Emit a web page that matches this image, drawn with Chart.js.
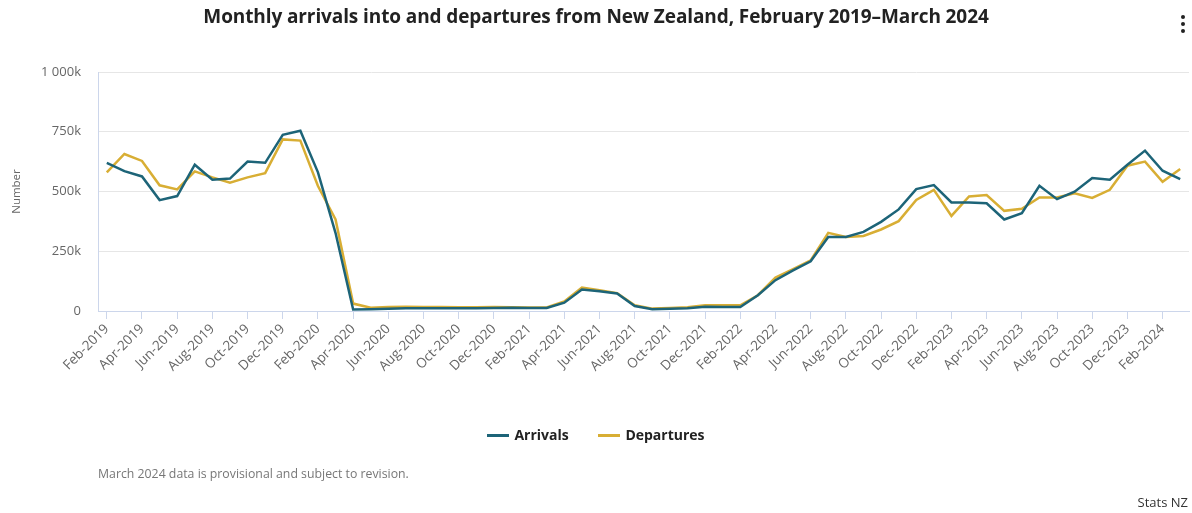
<!DOCTYPE html>
<html>
<head>
<meta charset="utf-8">
<script src="https://cdn.jsdelivr.net/npm/chart.js@4.4.1/dist/chart.umd.min.js"></script>
<style>
  html, body { margin: 0; padding: 0; background: #fff; }
  body { width: 1192px; height: 513px; position: relative; overflow: hidden; font-family: "Open Sans", "Liberation Sans", sans-serif; }
  #wrap { position: absolute; left: 0; top: 0; width: 1192px; height: 513px; }
  #title { position: absolute; left: 0; width: 1192px; top: 3px; text-align: center; font-weight: 700; font-size: 19px; color: #222; letter-spacing: -0.1px; }
  #menu { position: absolute; left: 1181px; top: 15px; width: 4px; }
  #menu span { display: block; width: 4px; height: 4px; border-radius: 2px; background: #222; margin-bottom: 3px; }
  #legend { position: absolute; top: 425px; left: 0; width: 1192px; text-align: center; font-size: 14px; font-weight: 700; color: #222; }
  #legend .item { display: inline-block; margin: 0 13px; }
  #legend .sw { display: inline-block; width: 22px; height: 3px; vertical-align: middle; margin-right: 5px; position: relative; top: -1px; }
  #note { position: absolute; left: 98px; top: 465px; font-size: 12.3px; color: #777; }
  #src { position: absolute; right: 4px; top: 493px; font-size: 13px; color: #333; }
</style>
</head>
<body>
<div id="wrap"><canvas id="c" width="1192" height="513"></canvas></div>
<div id="title">Monthly arrivals into and departures from New Zealand, February 2019–March 2024</div>
<div id="menu"><span></span><span></span><span></span></div>
<div id="legend">
  <span class="item"><span class="sw" style="background:#1d6478"></span>Arrivals</span>
  <span class="item"><span class="sw" style="background:#d8ae34"></span>Departures</span>
</div>
<div id="note">March 2024 data is provisional and subject to revision.</div>
<div id="src">Stats NZ</div>
<script>
// Month labels Feb-2019 .. Mar-2024
const months = ["Feb-2019","Mar-2019","Apr-2019","May-2019","Jun-2019","Jul-2019","Aug-2019","Sep-2019","Oct-2019","Nov-2019","Dec-2019","Jan-2020",
"Feb-2020","Mar-2020","Apr-2020","May-2020","Jun-2020","Jul-2020","Aug-2020","Sep-2020","Oct-2020","Nov-2020","Dec-2020","Jan-2021",
"Feb-2021","Mar-2021","Apr-2021","May-2021","Jun-2021","Jul-2021","Aug-2021","Sep-2021","Oct-2021","Nov-2021","Dec-2021","Jan-2022",
"Feb-2022","Mar-2022","Apr-2022","May-2022","Jun-2022","Jul-2022","Aug-2022","Sep-2022","Oct-2022","Nov-2022","Dec-2022","Jan-2023",
"Feb-2023","Mar-2023","Apr-2023","May-2023","Jun-2023","Jul-2023","Aug-2023","Sep-2023","Oct-2023","Nov-2023","Dec-2023","Jan-2024",
"Feb-2024","Mar-2024"];

// Values in thousands
const arrivals = [620,585,563,464,481,612,549,554,625,620,737,754,
580,326,6,7,9,11,12,12,12,12,13,14,
13,13,35,90,83,73,21,7,9,12,18,17,
17,66,129,170,208,310,310,331,373,425,510,527,
454,454,451,383,409,524,468,499,556,549,612,671,
587,552];

const departures = [580,657,628,526,509,584,559,537,559,577,718,713,
523,383,31,14,17,18,17,17,16,16,17,16,
15,15,40,98,87,75,24,10,13,16,24,24,
24,66,140,175,212,327,310,314,341,376,465,507,
398,479,485,419,428,475,475,493,473,507,608,625,
541,594];

const yTicks = [0,250,500,750,1000];

function fmtK(v) {
  if (v === 0) return "0";
  const s = String(v);
  return (s.length > 3 ? s.slice(0, s.length - 3) + " " + s.slice(-3) : s) + "k";
}

const ctx = document.getElementById('c').getContext('2d');
new Chart(ctx, {
  type: 'line',
  data: {
    labels: months,
    datasets: [
      { label: 'Arrivals', data: arrivals, borderColor: '#1d6478', backgroundColor: '#1d6478', borderWidth: 2.5, pointRadius: 0, tension: 0 },
      { label: 'Departures', data: departures, borderColor: '#d8ae34', backgroundColor: '#d8ae34', borderWidth: 2.5, pointRadius: 0, tension: 0 }
    ]
  },
  options: {
    responsive: false,
    animation: false,
    devicePixelRatio: 1,
    layout: { padding: { top: 72, left: 0, right: 3, bottom: 0 } },
    plugins: { legend: { display: false }, title: { display: false }, tooltip: { enabled: false } },
    scales: {
      x: {
        offset: true,
        afterFit: (s) => { s.height = 202; },
        grid: { drawOnChartArea: false, drawTicks: true, tickLength: 8, color: '#ccd6eb' },
        border: { display: true, color: '#ccd6eb' },
        ticks: {
          autoSkip: false, minRotation: 45, maxRotation: 45, padding: 2,
          color: '#666', font: { family: "'Open Sans', sans-serif", size: 13.5 },
          callback: function(v, i) { return i % 2 === 0 ? months[i] : null; }
        }
      },
      y: {
        min: 0, max: 1000,
        afterFit: (s) => { s.width = 98; },
        afterBuildTicks: (s) => { s.ticks = yTicks.map(v => ({ value: v })); },
        grid: { color: '#e6e6e6', drawTicks: false, lineWidth: 1 },
        border: { display: true, color: '#ccd6eb' },
        ticks: { padding: 17, color: '#666', font: { family: "'Open Sans', sans-serif", size: 13 }, callback: (v) => fmtK(v) },
        title: { display: true, text: 'Number', color: '#666', font: { family: "'Open Sans', sans-serif", size: 11.5 }, padding: { top: 10, bottom: 0 } }
      }
    }
  }
});
</script>
</body>
</html>
